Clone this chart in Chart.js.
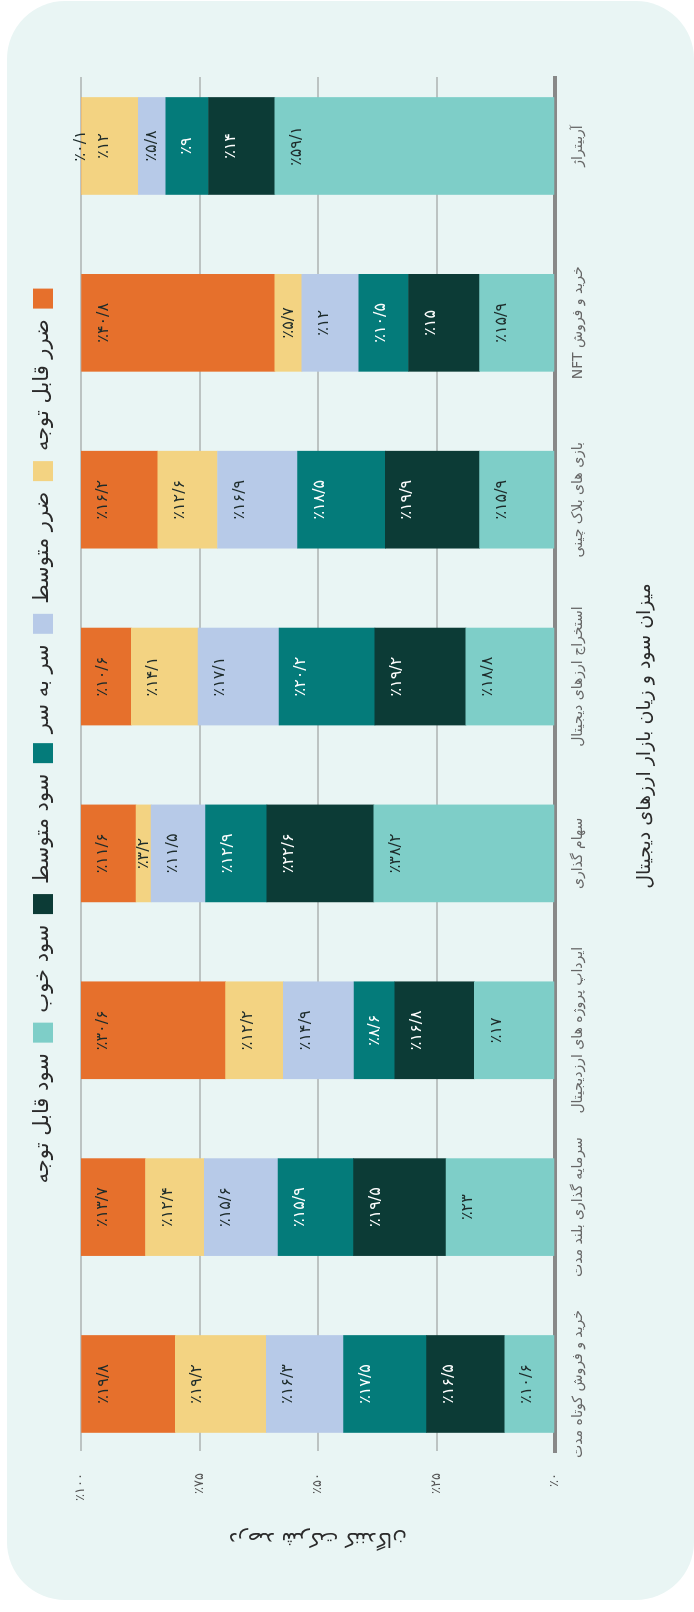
<!DOCTYPE html>
<html><head><meta charset="utf-8">
<script src="https://cdn.jsdelivr.net/npm/chart.js@4.4.1/dist/chart.umd.min.js"></script>
<style>
html,body{margin:0;padding:0;background:#ffffff;overflow:hidden;width:694px;height:1612px;position:relative;}
#bg{position:absolute;left:7px;top:1px;width:687px;height:1599px;background:#e9f5f4;border-radius:58px;}
#wrap{position:absolute;left:0;top:0;width:1752px;height:694px;transform-origin:0 0;transform:translate(0px,1612px) rotate(-90deg);}
</style></head>
<body>
<div id="bg"></div>
<div id="wrap"><canvas id="c" width="1752" height="694" dir="rtl"></canvas></div>
<script>
const categories = ['خرید و فروش کوتاه مدت','سرمایه گذاری بلند مدت','ایرداپ پروژه های ارزدیجیتال','سهام گذاری','استخراج ارزهای دیجیتال','بازی های بلاک چینی','خرید و فروش NFT','آربیتراژ'];
const seriesNames = ['سود قابل توجه','سود خوب','سود متوسط','سر به سر','ضرر متوسط','ضرر قابل توجه'];
const significantProfit = [10.6, 23, 17, 38.2, 18.8, 15.9, 15.9, 59.1];
const goodProfit        = [16.5, 19.5, 16.8, 22.6, 19.2, 19.9, 15, 14];
const mediumProfit      = [17.5, 15.9, 8.6, 12.9, 20.2, 18.5, 10.5, 9];
const breakEven         = [16.3, 15.6, 14.9, 11.5, 17.1, 16.9, 12, 5.8];
const mediumLoss        = [19.2, 12.4, 12.2, 3.2, 14.1, 12.6, 5.7, 12];
const significantLoss   = [19.8, 13.7, 30.6, 11.6, 10.6, 16.2, 40.8, 0.1];
const valueTicks = [0, 25, 50, 75, 100];
const chartTitle = 'میزان سود و زیان بازار ارزهای دیجیتال';
const yAxisTitle = 'درصد شرکت کنندگان';

const seriesValues = [significantProfit, goodProfit, mediumProfit, breakEven, mediumLoss, significantLoss];
const seriesColors = ['#7ecec8', '#0c3b36', '#047b7a', '#b7cae8', '#f3d382', '#e6702c'];
const labelColors  = ['#1d2b2a', '#ffffff', '#ffffff', '#1d2b2a', '#1d2b2a', '#1d2b2a'];

const faDigits = s => String(s).replace(/[0-9]/g, d => '۰۱۲۳۴۵۶۷۸۹'[d]);
const fmtPct = v => '٪' + faDigits(String(v).replace('.', '/'));

const FONT = "'DejaVu Sans', sans-serif";

const segLabels = {
  id: 'segLabels',
  afterDatasetsDraw(chart) {
    const ctx = chart.ctx;
    ctx.save();
    ctx.font = '16px ' + FONT;
    ctx.textAlign = 'center';
    ctx.textBaseline = 'middle';
    chart.data.datasets.forEach((ds, di) => {
      const meta = chart.getDatasetMeta(di);
      meta.data.forEach((bar, i) => {
        const v = seriesValues[di][i];
        const top = Math.min(bar.y, bar.base);
        const h = Math.abs(bar.base - bar.y);
        ctx.fillStyle = labelColors[di];
        ctx.fillText(fmtPct(v), bar.x, top + Math.min(22, h / 2));
      });
    });
    ctx.restore();
  }
};

new Chart(document.getElementById('c'), {
  type: 'bar',
  data: {
    datasets: seriesNames.map((name, k) => ({
      label: name,
      data: seriesValues[k].map((v, i) => ({x: i, y: v})),
      backgroundColor: seriesColors[k],
      borderWidth: 0,
      barThickness: 97
    }))
  },
  options: {
    responsive: false,
    animation: false,
    devicePixelRatio: 1,
    layout: {padding: {left: 0, right: 0, top: 22.5, bottom: 0}},
    plugins: {
      legend: {
        position: 'top', rtl: true, reverse: true, align: 'center',
        labels: {font: {family: FONT, size: 21}, color: '#2b2b2b', boxWidth: 20, boxHeight: 20, padding: 10}
      },
      subtitle: {display: true, position: 'top', weight: 500, text: '', padding: {top: 8.15, bottom: 8.15}, font: {size: 1}},
      title: {
        display: true, text: chartTitle, position: 'bottom',
        font: {family: FONT, size: 19, weight: 'normal'}, color: '#2b2b2b',
        padding: {top: 38.6, bottom: 37.6}
      },
      tooltip: {enabled: false}
    },
    scales: {
      x: {
        type: 'linear', bounds: 'data', offset: false, min: -0.379, max: 7.39, stacked: true,
        afterBuildTicks: s => { s.ticks = categories.map((c, i) => ({value: i})); },
        afterFit: s => { s.height = 40; },
        ticks: {callback: v => categories[v], font: {family: FONT, size: 14}, color: '#666666', padding: 15, maxRotation: 0, autoSkip: false},
        grid: {display: false, drawTicks: false, offset: false},
        border: {display: true, color: '#888888', width: 4}
      },
      y: {
        stacked: true, min: 0, max: 100,
        afterBuildTicks: s => { s.ticks = valueTicks.map(v => ({value: v})); },
        afterFit: s => { s.width = 161; },
        ticks: {callback: v => fmtPct(v), font: {family: FONT, size: 13}, color: '#555555', padding: 22},
        grid: {color: '#bcc3c2', lineWidth: 2, drawTicks: false},
        border: {display: false},
        title: {display: true, text: yAxisTitle, font: {family: FONT, size: 20}, color: '#2b2b2b', padding: {top: 62, bottom: 0}}
      },
      y2: {
        position: 'right', display: true,
        afterFit: s => { s.width = 217; },
        ticks: {display: false},
        grid: {display: false, drawTicks: false},
        border: {display: false}
      }
    }
  },
  plugins: [segLabels]
});
</script>
</body></html>
